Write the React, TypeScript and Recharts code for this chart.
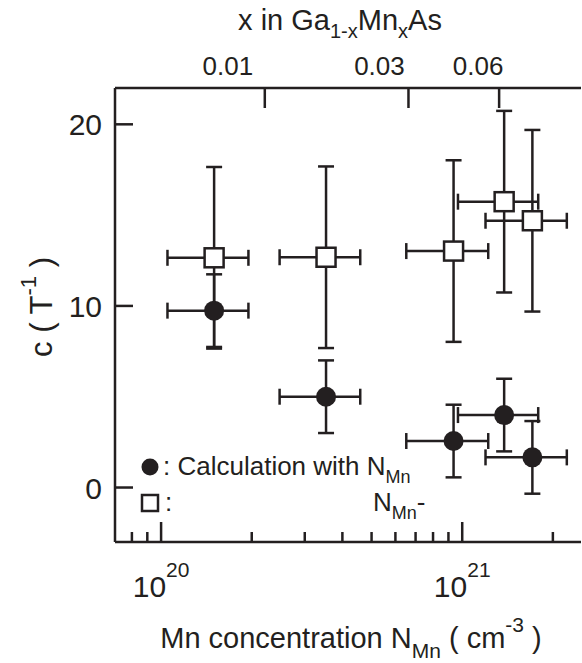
import { ScatterChart, Scatter, XAxis, YAxis, ErrorBar } from 'recharts';

// Mn concentration (cm^-3) and its error, shared by both series
const nMn = [1.5e20, 3.53e20, 9.36e20, 1.378e21, 1.71e21];
const nMnErr = [0.45e20, 1.055e20, 2.84e20, 4.1e20, 5.15e20];
// filled circles: calculation with N_Mn
const cCalc = [9.74, 5.0, 2.56, 3.99, 1.66];
const cCalcErr = [2, 2, 2, 2, 2];
// open squares
const cOpen = [12.65, 12.68, 13.02, 15.74, 14.69];
const cOpenErr = [5, 5, 5, 5, 5];

const bottomTicks = [8e19, 9e19, 1e20, 2e20, 3e20, 4e20, 5e20, 6e20, 7e20, 8e20, 9e20, 1e21, 2e21];
const topTickX = [0.01, 0.03, 0.06];
const yTicks = [0, 10, 20];

const N_PER_X = 2.21e22; // N_Mn = x * N_per_x
const INK = '#231f20';
const FONT = '"Liberation Sans", Arial, Helvetica, sans-serif';
const X_DOMAIN = [7.03e19, 2.48e21];
// in the original figure the top labels sit a bit left of their ticks
const TOP_LABEL_DX = [-37, -29, -21];

const calcData = nMn.map((n, i) => ({ n, c: cCalc[i], ex: nMnErr[i], ey: cCalcErr[i] }));
const openData = nMn.map((n, i) => ({ n, c: cOpen[i], ex: nMnErr[i], ey: cOpenErr[i] }));

const BottomTick = (props: any) => {
  const { x, y, payload } = props;
  const exp = Math.log10(payload.value);
  const major = Math.abs(exp - Math.round(exp)) < 1e-6;
  return (
    <g>
      <line x1={x} y1={y} x2={x} y2={y - (major ? 20 : 10)} stroke={INK} strokeWidth={2.5} />
      {major && (
        <text x={x} y={y + 55} textAnchor="middle" fontSize={30} fill={INK} fontFamily={FONT}>
          10<tspan fontSize={21} dy={-20}>{Math.round(exp)}</tspan>
        </text>
      )}
    </g>
  );
};

const TopTick = (props: any) => {
  const { x, y, payload } = props;
  const idx = topTickX.findIndex((t) => Math.abs(t * N_PER_X - payload.value) / payload.value < 1e-6);
  return (
    <g>
      <line x1={x} y1={y} x2={x} y2={y + 20} stroke={INK} strokeWidth={2.5} />
      {idx >= 0 && (
        <text x={x + TOP_LABEL_DX[idx]} y={y - 13} textAnchor="middle" fontSize={26} fill={INK} fontFamily={FONT}>
          {topTickX[idx]}
        </text>
      )}
    </g>
  );
};

const LeftTick = (props: any) => {
  const { x, y, payload } = props;
  return (
    <g>
      <line x1={x} y1={y} x2={x + 18} y2={y} stroke={INK} strokeWidth={2.5} />
      <text x={x - 13} y={y + 11} textAnchor="end" fontSize={30} fill={INK} fontFamily={FONT}>
        {payload.value}
      </text>
    </g>
  );
};

const Dot = (props: any) => <circle cx={props.cx} cy={props.cy} r={10} fill={INK} />;
const Box = (props: any) => (
  <rect x={props.cx - 9.5} y={props.cy - 9.5} width={19} height={19} fill="#fff" stroke={INK} strokeWidth={2.5} />
);
const Nothing = () => <g />;

const Texts = () => (
  <g fontFamily={FONT} fill={INK}>
    <text x={340} y={30} textAnchor="middle" fontSize={29}>
      x in Ga<tspan fontSize={20} dy={8}>1-x</tspan>
      <tspan dy={-8}>Mn</tspan>
      <tspan fontSize={20} dy={8}>x</tspan>
      <tspan dy={-8}>As</tspan>
    </text>
    <text x={351} y={648} textAnchor="middle" fontSize={29}>
      Mn concentration N<tspan fontSize={21} dy={10}>Mn</tspan>
      <tspan dy={-10}> ( cm</tspan>
      <tspan fontSize={21} dy={-16}>-3</tspan>
      <tspan dy={16}> )</tspan>
    </text>
    <text transform="rotate(-90)" x={-307} y={52} textAnchor="middle" fontSize={31}>
      c ( T<tspan fontSize={22} dy={-16}>-1</tspan>
      <tspan dy={16}> )</tspan>
    </text>
    <circle cx={150} cy={467} r={8.5} fill={INK} />
    <text x={163} y={475} fontSize={26}>
      : Calculation with N<tspan fontSize={18} dy={8}>Mn</tspan>
    </text>
    <rect x={142} y={495} width={16} height={16} fill="#fff" stroke={INK} strokeWidth={2.5} />
    <text x={165} y={511} fontSize={26}>:</text>
    <text x={373} y={511} fontSize={26}>
      N<tspan fontSize={18} dy={8}>Mn</tspan>
      <tspan dy={-8}>-</tspan>
    </text>
  </g>
);

export default function App() {
  return (
    <div style={{ position: 'absolute', left: 0, top: 0, background: '#fff' }}>
      <ScatterChart width={582} height={663} margin={{ top: 0, right: 1, bottom: 0, left: 0 }}>
        <XAxis
          xAxisId="bottom"
          dataKey="n"
          type="number"
          scale="log"
          domain={X_DOMAIN}
          allowDataOverflow
          ticks={bottomTicks}
          interval={0}
          height={121}
          tickSize={0}
          tickMargin={0}
          tickLine={false}
          tick={<BottomTick />}
          axisLine={{ stroke: INK, strokeWidth: 2.5 }}
        />
        <XAxis
          xAxisId="top"
          dataKey="n"
          orientation="top"
          type="number"
          scale="log"
          domain={X_DOMAIN}
          allowDataOverflow
          ticks={topTickX.map((t) => t * N_PER_X)}
          interval={0}
          height={88}
          tickSize={0}
          tickMargin={0}
          tickLine={false}
          tick={<TopTick />}
          axisLine={{ stroke: INK, strokeWidth: 2.5 }}
        />
        <YAxis
          yAxisId="left"
          dataKey="c"
          type="number"
          domain={[-3, 22]}
          allowDataOverflow
          ticks={yTicks}
          interval={0}
          width={115}
          tickSize={0}
          tickMargin={0}
          tickLine={false}
          tick={<LeftTick />}
          axisLine={{ stroke: INK, strokeWidth: 2.5 }}
        />
        <YAxis
          yAxisId="right"
          orientation="right"
          type="number"
          domain={[0, 1]}
          width={0}
          tick={false}
          tickLine={false}
          axisLine={{ stroke: INK, strokeWidth: 2.5 }}
        />
        {/* invisible series so the top (x in Ga1-xMnxAs) axis gets a scale */}
        <Scatter data={openData} xAxisId="top" yAxisId="left" shape={<Nothing />} isAnimationActive={false} />
        <Scatter data={openData} xAxisId="bottom" yAxisId="left" shape={<Box />} isAnimationActive={false}>
          <ErrorBar dataKey="ex" direction="x" width={8} stroke={INK} strokeWidth={2.5} isAnimationActive={false} />
          <ErrorBar dataKey="ey" direction="y" width={8} stroke={INK} strokeWidth={2.5} isAnimationActive={false} />
        </Scatter>
        <Scatter data={calcData} xAxisId="bottom" yAxisId="left" shape={<Dot />} isAnimationActive={false}>
          <ErrorBar dataKey="ex" direction="x" width={8} stroke={INK} strokeWidth={2.5} isAnimationActive={false} />
          <ErrorBar dataKey="ey" direction="y" width={8} stroke={INK} strokeWidth={2.5} isAnimationActive={false} />
        </Scatter>
        <Texts />
      </ScatterChart>
    </div>
  );
}
